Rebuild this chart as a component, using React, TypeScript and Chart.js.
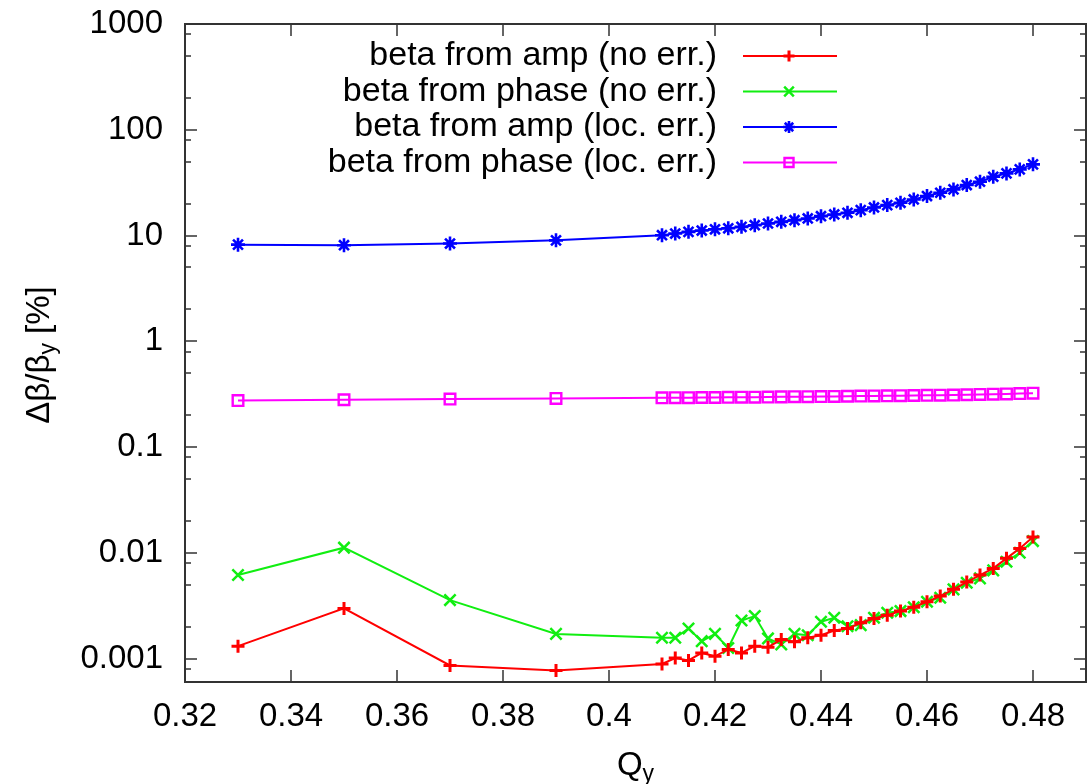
import React, { useEffect, useRef } from 'react';
import { Chart, registerables } from 'chart.js';
import { drawPoint } from 'chart.js/helpers';

Chart.register(...registerables);

// ---- data ----
const qValues = [
  0.33, 0.35, 0.37, 0.39,
  0.41, 0.4125, 0.415, 0.4175, 0.42, 0.4225, 0.425, 0.4275, 0.43, 0.4325,
  0.435, 0.4375, 0.44, 0.4425, 0.445, 0.4475, 0.45, 0.4525, 0.455, 0.4575,
  0.46, 0.4625, 0.465, 0.4675, 0.47, 0.4725, 0.475, 0.4775, 0.48,
];

const ampNoErr = [
  0.00131, 0.00298, 0.00086, 0.00077,
  0.00089, 0.00101, 0.00096, 0.00113, 0.00105, 0.00122, 0.00113, 0.00131, 0.00128, 0.00151,
  0.00144, 0.00157, 0.00166, 0.00184, 0.00192, 0.00218, 0.00239, 0.00257, 0.00281, 0.00306,
  0.00344, 0.0039, 0.00451, 0.00529, 0.00616, 0.00712, 0.00886, 0.011, 0.0141,
];

const phaseNoErr = [
  0.00616, 0.01118, 0.00357, 0.00171,
  0.00157, 0.00157, 0.00192, 0.00146, 0.00171, 0.00126, 0.00229, 0.00252, 0.00155, 0.00136,
  0.00171, 0.00166, 0.00223, 0.00243, 0.00202, 0.00207, 0.00243, 0.00271, 0.00281, 0.00306,
  0.00344, 0.00376, 0.00451, 0.00521, 0.00573, 0.00682, 0.00824, 0.01, 0.0129,
];

const ampLocErr = [
  8.2, 8.1, 8.4, 9.0,
  10.07, 10.44, 10.83, 11.15, 11.45, 11.7, 12.07, 12.52, 12.99, 13.47,
  13.97, 14.49, 15.24, 15.81, 16.39, 17.37, 18.42, 19.38, 20.39, 21.93,
  23.59, 25.37, 27.29, 29.99, 32.25, 35.95, 38.68, 42.2, 47.07,
];

const phaseLocErr = [
  0.275, 0.28, 0.284, 0.288,
  0.292, 0.293, 0.293, 0.294, 0.294, 0.295, 0.296, 0.296, 0.297, 0.298,
  0.299, 0.299, 0.3, 0.301, 0.302, 0.303, 0.304, 0.305, 0.306, 0.307,
  0.308, 0.309, 0.31, 0.312, 0.314, 0.316, 0.318, 0.32, 0.323,
];

const seriesLabels = [
  'beta from amp (no err.)',
  'beta from phase (no err.)',
  'beta from amp (loc. err.)',
  'beta from phase (loc. err.)',
];

const xTickValues = [0.32, 0.34, 0.36, 0.38, 0.4, 0.42, 0.44, 0.46, 0.48];
const xTickLabels = ['0.32', '0.34', '0.36', '0.38', '0.4', '0.42', '0.44', '0.46', '0.48'];
const yTickValues = [0.001, 0.01, 0.1, 1, 10, 100, 1000];
const yTickLabels = ['0.001', '0.01', '0.1', '1', '10', '100', '1000'];
const yMinorTickValues = [
  0.0008, 0.002, 0.005, 0.008, 0.02, 0.05, 0.08, 0.2, 0.5, 0.8,
  2, 5, 8, 20, 50, 80, 200, 500, 800,
];

const FONT = '"Liberation Sans", Arial, Helvetica, sans-serif';

const styles = [
  { color: '#ff0000', pointStyle: 'cross', radius: 6.5, border: 3 },
  { color: '#11ee11', pointStyle: 'crossRot', radius: 8, border: 2.5 },
  { color: '#0000ff', pointStyle: 'star', radius: 7, border: 2.6 },
  { color: '#ff00ff', pointStyle: 'rect', radius: 7.5, border: 2.4 },
];

const gnuplotPlugin = {
  id: 'gnuplotFrame',
  afterDatasetsDraw(chart: any) {
    const { ctx, chartArea: a, scales } = chart;
    const xs = scales.x;
    const ys = scales.y;
    ctx.save();
    ctx.strokeStyle = '#333333';
    ctx.lineWidth = 1.5;
    ctx.beginPath();
    for (const v of xTickValues) {
      const px = Math.round(xs.getPixelForValue(v));
      ctx.moveTo(px, a.bottom);
      ctx.lineTo(px, a.bottom - 12);
      ctx.moveTo(px, a.top);
      ctx.lineTo(px, a.top + 12);
    }
    for (const v of yTickValues) {
      const py = Math.round(ys.getPixelForValue(v));
      ctx.moveTo(a.left, py);
      ctx.lineTo(a.left + 12, py);
      ctx.moveTo(a.right, py);
      ctx.lineTo(a.right - 12, py);
    }
    for (const v of yMinorTickValues) {
      const py = Math.round(ys.getPixelForValue(v));
      ctx.moveTo(a.left, py);
      ctx.lineTo(a.left + 6, py);
      ctx.moveTo(a.right, py);
      ctx.lineTo(a.right - 6, py);
    }
    ctx.stroke();
    ctx.lineWidth = 2;
    ctx.strokeRect(a.left, a.top, a.right - a.left, a.bottom - a.top);

    // tick labels
    ctx.fillStyle = '#000000';
    ctx.font = `33px ${FONT}`;
    ctx.textAlign = 'right';
    ctx.textBaseline = 'middle';
    yTickValues.forEach((v, i) => {
      ctx.fillText(yTickLabels[i], a.left - 22, ys.getPixelForValue(v));
    });
    ctx.textAlign = 'center';
    xTickValues.forEach((v, i) => {
      ctx.fillText(xTickLabels[i], xs.getPixelForValue(v), a.bottom + 35);
    });

    // x title Q_y
    const big = `33px ${FONT}`;
    const small = `23px ${FONT}`;
    ctx.textAlign = 'left';
    ctx.font = big;
    const wQ = ctx.measureText('Q').width;
    ctx.font = small;
    const wy = ctx.measureText('y').width;
    const cx = (a.left + a.right) / 2;
    const x0 = cx - (wQ + wy) / 2;
    ctx.font = big;
    ctx.fillText('Q', x0, 766);
    ctx.font = small;
    ctx.fillText('y', x0 + wQ, 775);

    // y title Δβ/β_y [%]
    ctx.save();
    ctx.translate(40, 355);
    ctx.rotate(-Math.PI / 2);
    ctx.font = big;
    const p1 = 'Δβ/β';
    const p3 = ' [%]';
    const w1 = ctx.measureText(p1).width;
    const w3 = ctx.measureText(p3).width;
    ctx.font = small;
    const w2 = ctx.measureText('y').width;
    let tx = -(w1 + w2 + w3) / 2;
    ctx.font = big;
    ctx.fillText(p1, tx, 0);
    tx += w1;
    ctx.font = small;
    ctx.fillText('y', tx, 9);
    tx += w2;
    ctx.font = big;
    ctx.fillText(p3, tx, 0);
    ctx.restore();

    // legend
    ctx.font = `34px ${FONT}`;
    ctx.textAlign = 'right';
    ctx.textBaseline = 'middle';
    seriesLabels.forEach((lab, i) => {
      const y = 56 + i * 35.5;
      const st = styles[i];
      ctx.fillStyle = '#000000';
      ctx.fillText(lab, 717, y);
      ctx.strokeStyle = st.color;
      ctx.lineWidth = 2.2;
      ctx.beginPath();
      ctx.moveTo(743, y);
      ctx.lineTo(837, y);
      ctx.stroke();
      ctx.fillStyle = 'rgba(0,0,0,0)';
      ctx.lineWidth = st.border;
      drawPoint(ctx, { pointStyle: st.pointStyle, rotation: 0, radius: st.radius * 0.85, borderWidth: st.border } as any, 789, y);
    });
    ctx.restore();
  },
};

export default function App() {
  const ref = useRef<HTMLCanvasElement>(null);
  useEffect(() => {
    const seriesValues = [ampNoErr, phaseNoErr, ampLocErr, phaseLocErr];
    const chart = new Chart(ref.current as HTMLCanvasElement, {
      type: 'line',
      data: {
        datasets: seriesValues.map((vals, i) => ({
          label: seriesLabels[i],
          data: qValues.map((q, j) => ({ x: q, y: vals[j] })),
          borderColor: styles[i].color,
          backgroundColor: 'rgba(0,0,0,0)',
          borderWidth: 2,
          pointStyle: styles[i].pointStyle as any,
          pointRadius: styles[i].radius,
          pointBorderWidth: styles[i].border,
          pointBorderColor: styles[i].color,
          pointBackgroundColor: 'rgba(0,0,0,0)',
          tension: 0,
          fill: false,
        })),
      },
      options: {
        responsive: false,
        animation: false,
        layout: { autoPadding: false, padding: { left: 185, right: 1, top: 24, bottom: 102 } },
        plugins: { legend: { display: false }, tooltip: { enabled: false } },
        events: [],
        scales: {
          x: { type: 'linear', min: 0.32, max: 0.49, display: false },
          y: { type: 'logarithmic', min: 0.0006, max: 1000, display: false },
        },
      },
      plugins: [gnuplotPlugin],
    });
    return () => chart.destroy();
  }, []);
  return (
    <canvas
      ref={ref}
      width={1087}
      height={784}
      style={{ position: 'fixed', left: 0, top: 0, width: 1087, height: 784, background: '#ffffff' }}
    />
  );
}
